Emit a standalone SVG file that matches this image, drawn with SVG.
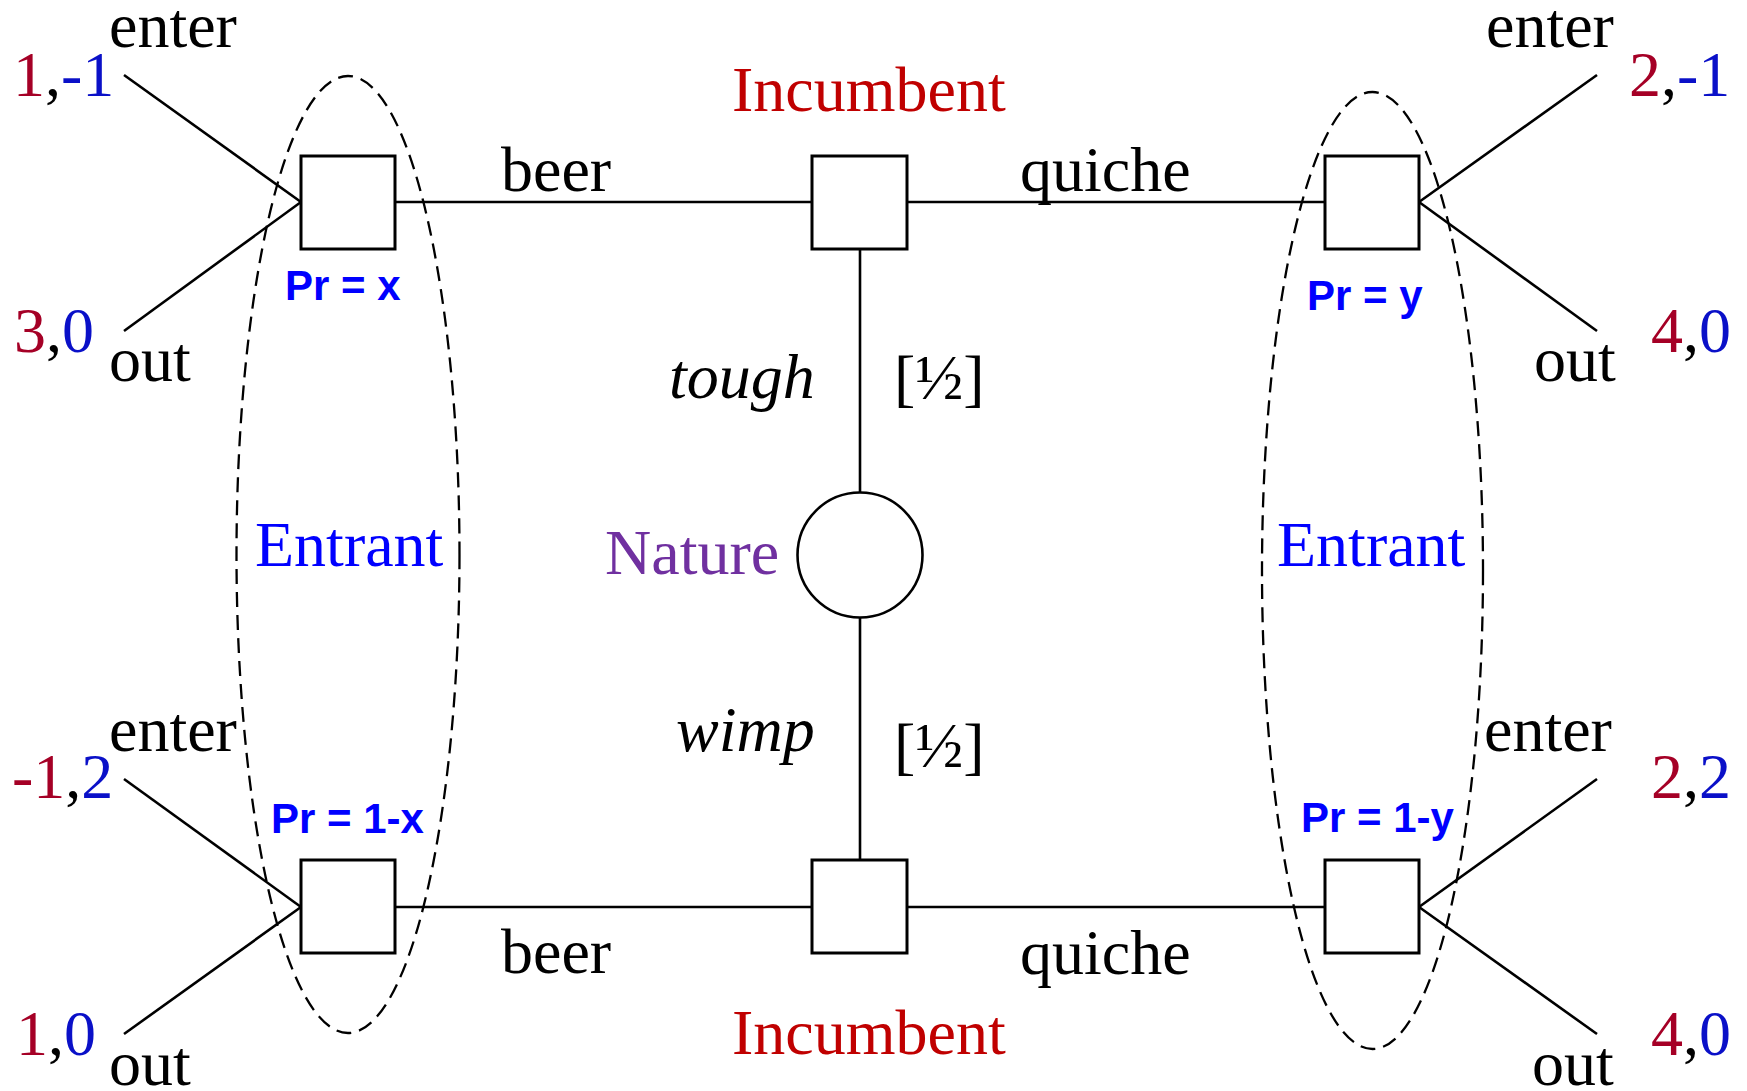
<svg xmlns="http://www.w3.org/2000/svg" width="1747" height="1091" viewBox="0 0 1747 1091">
<style>
.bg{fill:#ffffff}
.edge{stroke:#000;stroke-width:2.6;fill:none}
.box{fill:#fff;stroke:#000;stroke-width:3}
.chance{fill:#fff;stroke:#000;stroke-width:2.6}
.info{fill:none;stroke:#000;stroke-width:2.3;stroke-dasharray:15 8}
.t{font-family:"Liberation Serif","Times New Roman",serif;font-size:64px;fill:#000}
.it{font-style:italic}
.inc{fill:#c00000}
.nat{fill:#7030a0}
.ent{fill:#0000ff}
.p1{fill:#a50026}
.p2{fill:#0a10c8}
.pr{font-family:"Liberation Sans",Arial,sans-serif;font-weight:bold;font-size:42px;fill:#0000ff}
</style>
<rect class="bg" x="0" y="0" width="1747" height="1091"/>
<g id="info-sets">
<ellipse id="info-left" class="info" cx="348" cy="554.5" rx="111.5" ry="478.5"/>
<ellipse id="info-right" class="info" cx="1372.5" cy="570.5" rx="110.5" ry="478.5"/>
</g>
<g id="connectors">
<line class="edge" x1="395" y1="202" x2="812" y2="202"/>
<line class="edge" x1="907" y1="202" x2="1325" y2="202"/>
<line class="edge" x1="395" y1="907" x2="812" y2="907"/>
<line class="edge" x1="907" y1="907" x2="1325" y2="907"/>
<line class="edge" x1="860" y1="249" x2="860" y2="493"/>
<line class="edge" x1="860" y1="618" x2="860" y2="860"/>
<line class="edge" x1="124" y1="75" x2="301" y2="202"/>
<line class="edge" x1="124" y1="331" x2="301" y2="202"/>
<line class="edge" x1="124" y1="779" x2="301" y2="907"/>
<line class="edge" x1="124" y1="1034" x2="301" y2="907"/>
<line class="edge" x1="1419" y1="202" x2="1597" y2="75"/>
<line class="edge" x1="1419" y1="202" x2="1597" y2="331"/>
<line class="edge" x1="1419" y1="907" x2="1597" y2="779"/>
<line class="edge" x1="1419" y1="907" x2="1597" y2="1034"/>
</g>
<g id="entrant-top-left"><rect class="box" x="301" y="156" width="94" height="93"/></g>
<g id="incumbent-top"><rect class="box" x="812" y="156" width="95" height="93"/></g>
<g id="entrant-top-right"><rect class="box" x="1325" y="156" width="94" height="93"/></g>
<g id="entrant-bottom-left"><rect class="box" x="301" y="860" width="94" height="93"/></g>
<g id="incumbent-bottom"><rect class="box" x="812" y="860" width="95" height="93"/></g>
<g id="entrant-bottom-right"><rect class="box" x="1325" y="860" width="94" height="93"/></g>
<g id="nature"><circle class="chance" cx="860" cy="555" r="62.5"/></g>
<g id="labels">
<text class="t inc" x="732" y="111">Incumbent</text>
<text class="t inc" x="732" y="1054">Incumbent</text>
<text class="t nat" x="605" y="574">Nature</text>
<text class="t ent" x="255" y="566">Entrant</text>
<text class="t ent" x="1277" y="566">Entrant</text>
<text class="t" x="501" y="191">beer</text>
<text class="t" x="1020" y="191">quiche</text>
<text class="t" x="501" y="973">beer</text>
<text class="t" x="1020" y="974">quiche</text>
<text class="t it" x="669" y="398">tough</text>
<text class="t it" x="676" y="751">wimp</text>
<text class="t" x="894" y="399">[½]</text>
<text class="t" x="894" y="767">[½]</text>
<text class="pr" x="285" y="300">Pr = x</text>
<text class="pr" x="1307" y="310">Pr = y</text>
<text class="pr" x="271" y="833">Pr = 1-x</text>
<text class="pr" x="1301" y="832">Pr = 1-y</text>
<text class="t" x="109" y="47">enter</text>
<text class="t" x="109" y="381">out</text>
<text class="t" x="109" y="751">enter</text>
<text class="t" x="109" y="1085">out</text>
<text class="t" x="1486" y="47">enter</text>
<text class="t" x="1534" y="381">out</text>
<text class="t" x="1484" y="751">enter</text>
<text class="t" x="1532" y="1085">out</text>
<text class="t" x="13" y="96"><tspan class="p1">1</tspan>,<tspan class="p2">-1</tspan></text>
<text class="t" x="14" y="352"><tspan class="p1">3</tspan>,<tspan class="p2">0</tspan></text>
<text class="t" x="12" y="798"><tspan class="p1">-1</tspan>,<tspan class="p2">2</tspan></text>
<text class="t" x="16" y="1055"><tspan class="p1">1</tspan>,<tspan class="p2">0</tspan></text>
<text class="t" x="1629" y="96"><tspan class="p1">2</tspan>,<tspan class="p2">-1</tspan></text>
<text class="t" x="1651" y="352"><tspan class="p1">4</tspan>,<tspan class="p2">0</tspan></text>
<text class="t" x="1651" y="798"><tspan class="p1">2</tspan>,<tspan class="p2">2</tspan></text>
<text class="t" x="1651" y="1055"><tspan class="p1">4</tspan>,<tspan class="p2">0</tspan></text>
</g>
</svg>
